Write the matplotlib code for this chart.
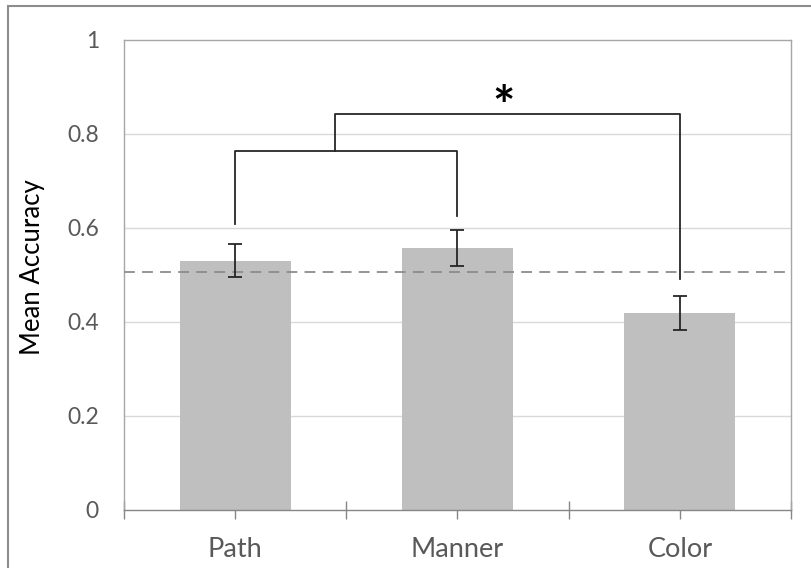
import matplotlib
matplotlib.use("Agg")
import matplotlib.pyplot as plt
from matplotlib.patches import Rectangle

plt.rcParams['font.family'] = ['Lato', 'DejaVu Sans']

# data
conditions = ["Path", "Manner", "Color"]
mean_acc = [0.530, 0.557, 0.419]
err_low = [0.034, 0.037, 0.037]
err_high = [0.037, 0.039, 0.037]
chance = 0.506
ytick_vals = [0, 0.2, 0.4, 0.6, 0.8, 1.0]
ytick_labels = ["0", "0.2", "0.4", "0.6", "0.8", "1"]

# bracket levels (data units)
inner_y = 0.764
outer_y = 0.843
leg_bottoms = [0.608, 0.626, 0.491]
outer_left = 0.45

fig = plt.figure(figsize=(8.12, 5.68), dpi=100)
ax = fig.add_axes([124/812, 1-510/568, 667/812, 470/568])

x = list(range(len(conditions)))
ax.bar(x, mean_acc, width=0.5, color="#bfbfbf", zorder=2)
ax.errorbar(x, mean_acc, yerr=[err_low, err_high], fmt="none", ecolor="#262626",
            elinewidth=1.3, capsize=5, capthick=1.3, zorder=4)

ax.axhline(chance, color="#8c8c8c", lw=1.3, ls=(0, (6, 4)), zorder=3)

ax.set_xlim(-0.5, 2.5)
ax.set_ylim(0, 1)
ax.set_yticks(ytick_vals)
ax.set_yticklabels(ytick_labels)
for yv in ytick_vals[1:-1]:
    ax.axhline(yv, color="#d9d9d9", lw=1.0, zorder=1)

ax.set_xticks(x)
ax.set_xticklabels(conditions)
ax.set_xticks([-0.5, 0.5, 1.5, 2.5], minor=True)
ax.tick_params(axis="x", which="both", direction="inout", length=13, width=1.0,
               color="#868686", labelsize=19.5, labelcolor="#595959", pad=13)
ax.tick_params(axis="y", length=0, labelsize=16.5, labelcolor="#595959", pad=18)

for s in ["top", "right", "left"]:
    ax.spines[s].set_color("#a6a6a6")
    ax.spines[s].set_linewidth(1.0)
ax.spines["bottom"].set_color("#868686")
ax.spines["bottom"].set_linewidth(1.0)

ax.set_ylabel("Mean Accuracy", fontsize=18.5, color="black")
ax.yaxis.set_label_coords(-0.118, 0.517)

# significance brackets
lc = "#262626"
ax.plot([0, 0, 1, 1], [leg_bottoms[0], inner_y, inner_y, leg_bottoms[1]], color=lc, lw=1.3, zorder=5)
ax.plot([outer_left, outer_left, 2, 2], [inner_y, outer_y, outer_y, leg_bottoms[2]], color=lc, lw=1.3, zorder=5)
ax.text(1.205, 0.853, "*", fontsize=38, fontweight="bold", ha="center", va="center", color="black")

# outer chart border
fig.patches.append(Rectangle((8/812, -0.01), 1.0, 1 - 6/568 + 0.01, transform=fig.transFigure,
                             fill=False, edgecolor="#8c8c8c", lw=1.5))

fig.savefig("out.png", dpi=100)
